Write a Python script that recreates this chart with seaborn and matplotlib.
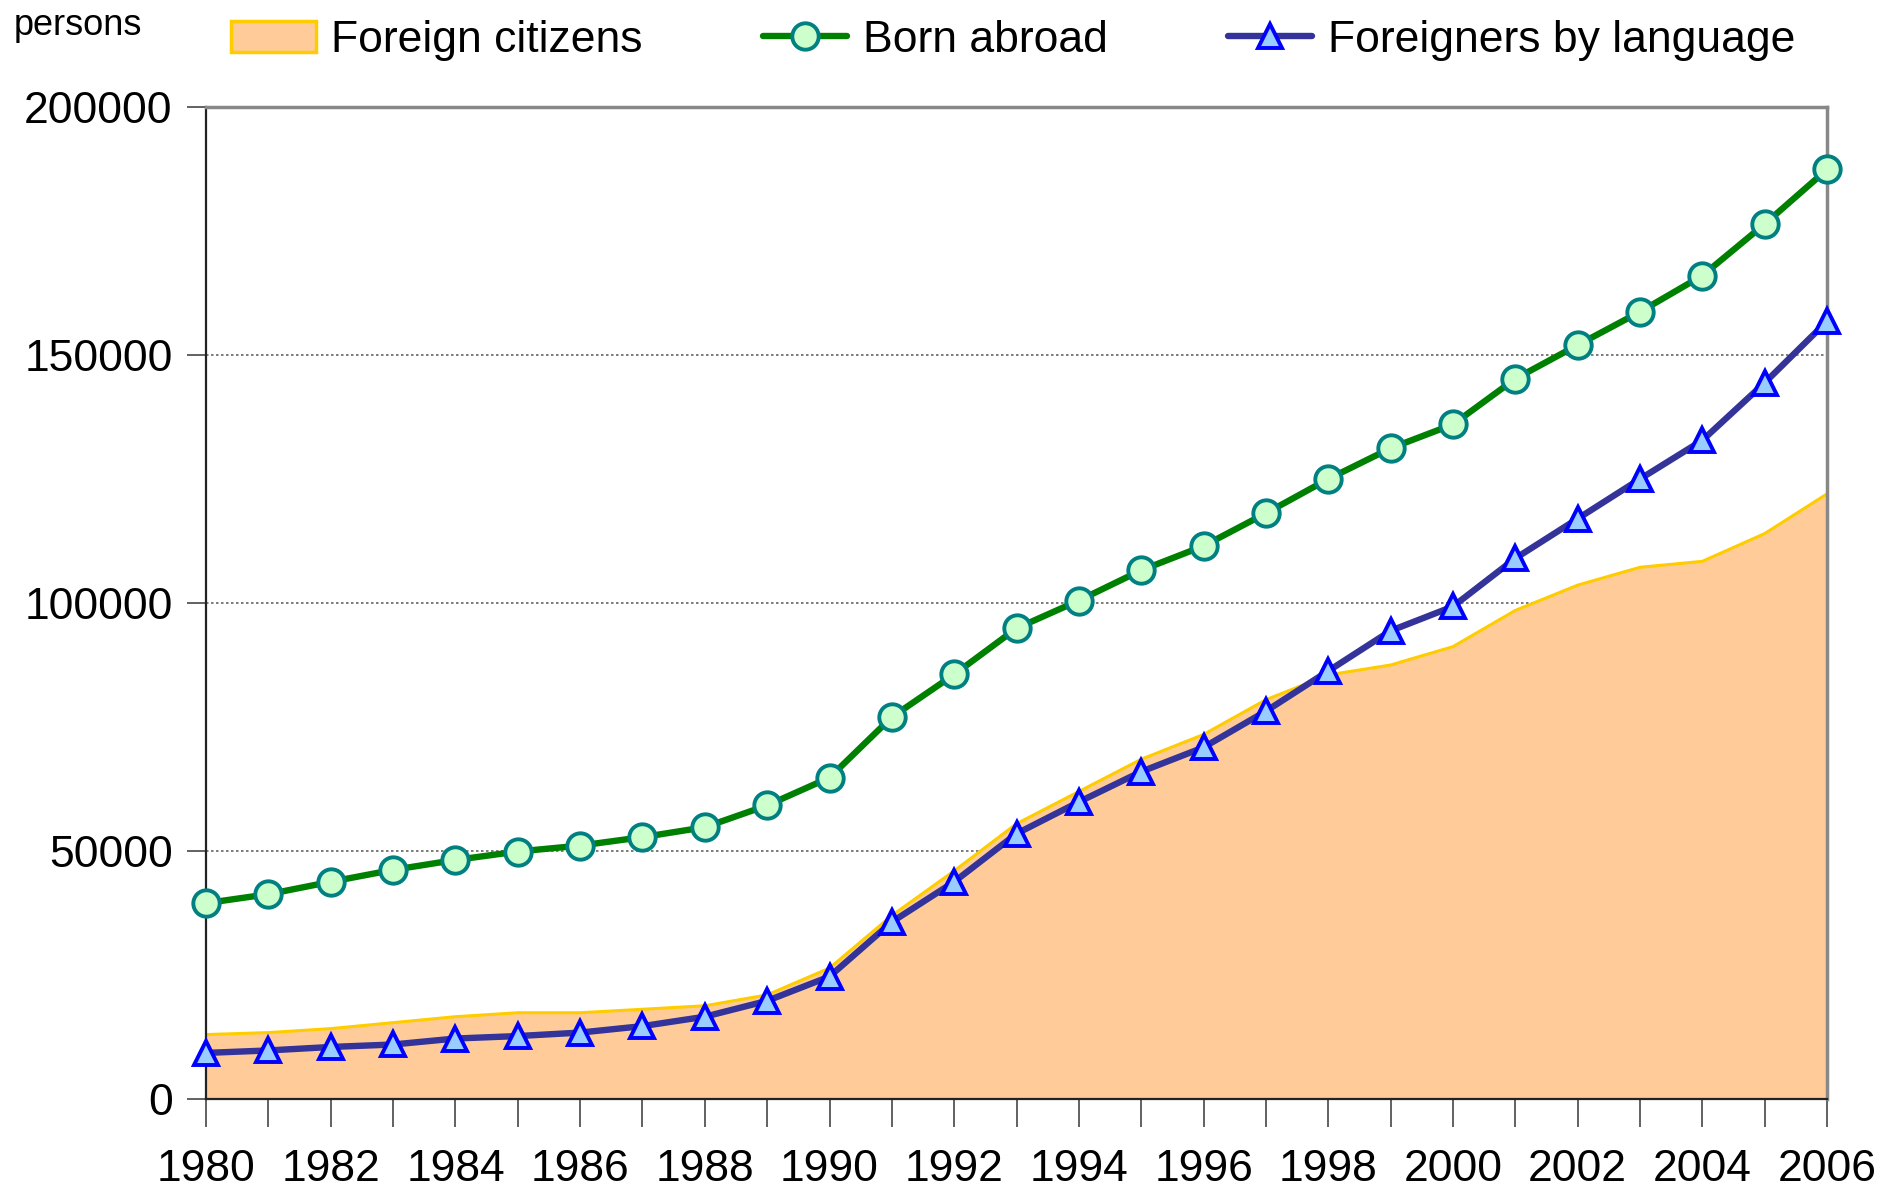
import matplotlib
matplotlib.use("Agg")
import matplotlib.pyplot as plt
from matplotlib.patches import Patch
from matplotlib.lines import Line2D
from matplotlib.ticker import MultipleLocator
import seaborn as sns
import numpy as np
import pandas as pd

# Data (persons)
years = list(range(1980, 2007))
foreign_citizens = [13000, 13400, 14200, 15400, 16600, 17400, 17400, 18100, 18800, 21000,
                    26400, 37000, 46000, 55500, 62000, 68500, 73500, 80500, 85500, 87500,
                    91200, 98500, 103600, 107200, 108400, 114000, 122000]
born_abroad = [39500, 41300, 43800, 46200, 48200, 49900, 51100, 52800, 54800, 59200,
               64800, 77000, 85600, 94900, 100500, 106600, 111500, 118100, 125000, 131200,
               136000, 145200, 152000, 158700, 166000, 176400, 187400]
by_language = [9300, 9800, 10500, 11000, 12200, 12700, 13400, 14700, 16600, 19800,
               24700, 35700, 43800, 53500, 59900, 66000, 70900, 78200, 86300, 94400,
               99300, 109000, 117000, 125000, 132800, 144400, 156800]

labels = ["Foreign citizens", "Born abroad", "Foreigners by language"]
y_ticks = [0, 50000, 100000, 150000, 200000]

df = pd.DataFrame({"year": years, "citizens": foreign_citizens,
                   "born": born_abroad, "language": by_language})

sns.set_style("white")
plt.rcParams["font.family"] = ["Liberation Sans", "DejaVu Sans"]
plt.rcParams["text.color"] = "black"
plt.rcParams["xtick.color"] = "black"
plt.rcParams["ytick.color"] = "black"

fig = plt.figure(figsize=(19.01, 11.91), dpi=100)
ax = fig.add_axes([0.1084, 0.0772, 0.8527, 0.833])

# area for foreign citizens
ax.fill_between(df["year"], 0, df["citizens"], color="#FFCC99", zorder=1)
ax.plot(df["year"], df["citizens"], color="#FFCC00", lw=2.2, zorder=2)
ax.plot([2006, 2006], [0, foreign_citizens[-1]], color="#FFCC00", lw=2.2, zorder=2)

sns.lineplot(data=df, x="year", y="language", ax=ax, color="#333399", lw=4.6,
             marker="^", markersize=17, markerfacecolor="#99CCFF",
             markeredgecolor="#0000FF", markeredgewidth=2.8, zorder=4, clip_on=False)
sns.lineplot(data=df, x="year", y="born", ax=ax, color="#008000", lw=4.6,
             marker="o", markersize=19, markerfacecolor="#CCFFCC",
             markeredgecolor="#008080", markeredgewidth=2.8, zorder=5, clip_on=False)

ax.set_xlim(1980, 2006)
ax.set_ylim(0, 200000)
ax.set_yticks(y_ticks)
ax.set_yticklabels([str(v) for v in y_ticks])
ax.xaxis.set_major_locator(MultipleLocator(2))
ax.xaxis.set_minor_locator(MultipleLocator(1))
ax.set_xlabel("")
ax.set_ylabel("")

for v in y_ticks[1:-1]:
    ax.axhline(v, color="#666666", lw=1.2, ls=(0, (1.5, 1.5)), zorder=0)

ax.tick_params(axis="y", which="major", direction="out", length=14, width=1.3,
               color="#555555", labelcolor="black", labelsize=32, pad=10, left=True)
ax.tick_params(axis="x", which="both", direction="out", length=20, width=1.3,
               color="#555555", labelcolor="black", labelsize=32, pad=16, bottom=True)

for side in ["left", "bottom"]:
    ax.spines[side].set_color("#222222")
    ax.spines[side].set_linewidth(1.6)
for side in ["top", "right"]:
    ax.spines[side].set_color("#888888")
    ax.spines[side].set_linewidth(2.5)
    ax.spines[side].set_visible(True)

fig.text(0.007, 0.971, "persons", fontsize=26, ha="left", va="baseline")

handles = [
    Patch(facecolor="#FFCC99", edgecolor="#FFCC00", linewidth=2.5),
    Line2D([], [], color="#008000", lw=4.6, marker="o", markersize=19,
           markerfacecolor="#CCFFCC", markeredgecolor="#008080", markeredgewidth=2.8),
    Line2D([], [], color="#333399", lw=4.6, marker="^", markersize=17,
           markerfacecolor="#99CCFF", markeredgecolor="#0000FF", markeredgewidth=2.8),
]
fig.legend(handles, labels, loc="center", bbox_to_anchor=(0.533, 0.966), ncol=3,
           frameon=False, fontsize=32, handlelength=1.9, handletextpad=0.35,
           columnspacing=2.7)

fig.savefig("out.png", dpi=100)
